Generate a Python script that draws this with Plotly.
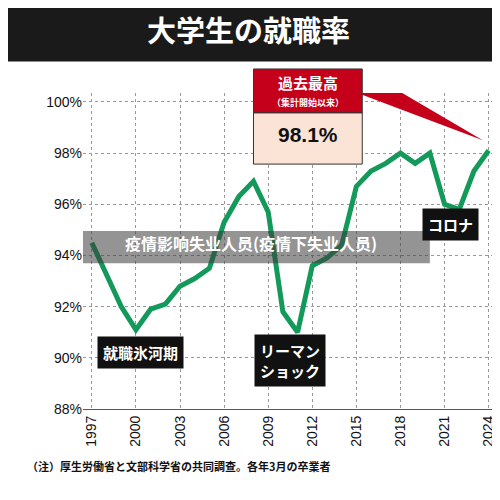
import plotly.graph_objects as go

years = list(range(1997, 2025))
rate = [94.5, 93.3, 92.0, 91.1, 91.9, 92.1, 92.8, 93.1, 93.5, 95.3, 96.3, 96.9, 95.7, 91.8,
        91.0, 93.6, 93.9, 94.4, 96.7, 97.3, 97.6, 98.0, 97.6, 98.0, 96.0, 95.8, 97.3, 98.1]
tick_years = list(range(1997, 2025, 3))
y_ticks = [88, 90, 92, 94, 96, 98, 100]

font = "Noto Sans CJK JP"
fig = go.Figure()
fig.add_trace(go.Scatter(x=years, y=rate, mode="lines", cliponaxis=False,
                         line=dict(color="#139a5a", width=5), showlegend=False))

# red callout pointer to the latest value
fig.add_shape(type="path", xref="x", yref="y",
              path="M 2015.3 101.3 L 2015.3 100.3 L 2023.6 98.5 Z",
              fillcolor="#c4001a", line=dict(width=0))
fig.add_shape(type="rect", xref="x", yref="paper", x0=2008.0, x1=2015.4, y0=0.937, y1=1.076,
              fillcolor="#c4001a", line=dict(color="#333", width=1))
fig.add_shape(type="rect", xref="x", yref="paper", x0=2008.0, x1=2015.4, y0=0.775, y1=0.937,
              fillcolor="#fbe3d6", line=dict(color="#333", width=1))
fig.add_annotation(x=2011.7, y=1.073, xref="x", yref="paper", text="<b>過去最高</b>", showarrow=False,
                   font=dict(color="white", size=15, family=font))
fig.add_annotation(x=2011.7, y=0.997, xref="x", yref="paper", text="<b>（集計開始以来）</b>", showarrow=False,
                   font=dict(color="white", size=9, family=font))
fig.add_annotation(x=2011.7, y=0.91, xref="x", yref="paper", text="<b>98.1%</b>", showarrow=False,
                   font=dict(color="#111", size=21, family="Liberation Sans"))

labels = [(2000.3, 90.2, "就職氷河期"), (2010.5, 89.9, "リーマン<br>ショック"), (2021.4, 95.2, "コロナ")]
for x, y, t in labels:
    fig.add_annotation(x=x, y=y, text="<b>" + t + "</b>", showarrow=False, bgcolor="#111",
                       font=dict(color="white", size=15, family=font), borderpad=5)

fig.add_shape(type="rect", xref="paper", yref="paper", x0=-0.25, x1=1.05, y0=1.10, y1=1.45,
              fillcolor="#1a1a1a", line=dict(width=0))
fig.add_annotation(x=0.4, y=1.275, xref="paper", yref="paper", text="<b>大学生の就職率</b>", showarrow=False,
                   font=dict(color="white", size=29, family=font))
fig.add_annotation(x=-0.14, y=-0.212, xref="paper", yref="paper", xanchor="left",
                   text="<b>（注）厚生労働省と文部科学省の共同調查。各年3月の卒業者</b>", showarrow=False,
                   font=dict(color="#111", size=11, family=font))
fig.add_shape(type="rect", xref="x", yref="y", x0=1995.8, x1=2020.0, y0=93.7, y1=94.96,
              fillcolor="rgba(60,60,60,0.55)", line=dict(width=0))
fig.add_annotation(x=2007.8, y=94.47, xref="x", yref="y", text="<b>疫情影响失业人员(疫情下失业人员)</b>",
                   showarrow=False, font=dict(color="white", size=16, family="Noto Sans CJK SC"))

fig.update_xaxes(range=[1996.4, 2024.5], tickvals=tick_years, tickangle=-90, showgrid=True,
                 gridcolor="#999", griddash="dot", zeroline=False,
                 tickfont=dict(size=14, color="#111", family="Liberation Sans"), showline=True, linecolor="#555")
fig.update_yaxes(range=[88, 100.35], tickvals=y_ticks, ticktext=[f"{v}%" for v in y_ticks],
                 showgrid=True, gridcolor="#999", griddash="dot", zeroline=False,
                 tickfont=dict(size=14, color="#111", family="Liberation Sans"))
fig.update_layout(width=500, height=500, margin=dict(l=75, r=12, t=85, b=99),
                  plot_bgcolor="white", paper_bgcolor="white")
fig.write_html("out.html")
